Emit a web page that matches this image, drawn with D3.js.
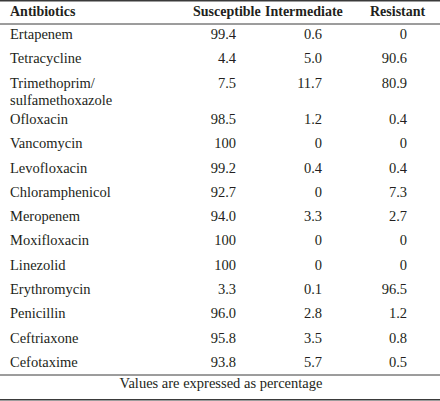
<!DOCTYPE html>
<html><head><meta charset="utf-8">
<script src="https://cdn.jsdelivr.net/npm/d3@7"></script>
<style>html,body{margin:0;padding:0;background:#fff;}svg{display:block;}</style>
</head><body>
<svg id="c" width="440" height="401"></svg>
<script>
const headers = ["Antibiotics", "Susceptible", "Intermediate", "Resistant"];
const antibiotics = [
  ["Ertapenem"], ["Tetracycline"], ["Trimethoprim/", "sulfamethoxazole"], ["Ofloxacin"],
  ["Vancomycin"], ["Levofloxacin"], ["Chloramphenicol"], ["Meropenem"], ["Moxifloxacin"],
  ["Linezolid"], ["Erythromycin"], ["Penicillin"], ["Ceftriaxone"], ["Cefotaxime"]
];
const susceptible = ["99.4","4.4","7.5","98.5","100","99.2","92.7","94.0","100","100","3.3","96.0","95.8","93.8"];
const intermediate = ["0.6","5.0","11.7","1.2","0","0.4","0","3.3","0","0","0.1","2.8","3.5","5.7"];
const resistant = ["0","90.6","80.9","0.4","0","0.4","7.3","2.7","0","0","96.5","1.2","0.8","0.5"];
const footnote = "Values are expressed as percentage";

const svg = d3.select("#c");
const ink = "#231f20";
const font = "'Liberation Serif', 'Times New Roman', serif";

// column anchors
const colX = d3.scaleOrdinal().domain(headers).range([10, 236, 322, 407]);
const headX = d3.scaleOrdinal().domain(headers).range([10, 193, 265, 370]);

// row baselines
let extra = 0;
const rowY = antibiotics.map((a, i) => {
  const y = 39 + i * 24.3 + extra * 12;
  extra += a.length - 1;
  return y;
});

// rules
const rules = [{y: 0.75, w: 1.5}, {y: 24, w: 1}, {y: 375, w: 1}, {y: 399.75, w: 1.5}];
svg.selectAll("line.rule").data(rules).join("line")
  .attr("x1", 0).attr("x2", 440).attr("y1", d => d.y).attr("y2", d => d.y)
  .attr("stroke", "#3a3a3a").attr("stroke-width", d => d.w);

// header
svg.selectAll("text.head").data(headers).join("text")
  .attr("class", "head")
  .attr("x", d => headX(d)).attr("y", 16)
  .attr("font-family", font).attr("font-size", 14).attr("font-weight", "bold")
  .attr("fill", ink).text(d => d);

// body
const rows = antibiotics.map((a, i) => ({name: a, vals: [susceptible[i], intermediate[i], resistant[i]], y: rowY[i]}));
const g = svg.selectAll("g.row").data(rows).join("g").attr("class", "row");
g.each(function(d) {
  const sel = d3.select(this);
  d.name.forEach((line, k) => {
    sel.append("text").attr("x", colX(headers[0])).attr("y", d.y + k * 17)
      .attr("font-family", font).attr("font-size", 14.5).attr("fill", ink).text(line);
  });
  d.vals.forEach((v, k) => {
    sel.append("text").attr("x", colX(headers[k + 1])).attr("y", d.y)
      .attr("text-anchor", "end")
      .attr("font-family", font).attr("font-size", 14.5).attr("fill", ink).text(v);
  });
});

svg.append("text").attr("x", 221).attr("y", 388).attr("text-anchor", "middle")
  .attr("font-family", font).attr("font-size", 14.5).attr("fill", ink).text(footnote);
</script>
</body></html>
